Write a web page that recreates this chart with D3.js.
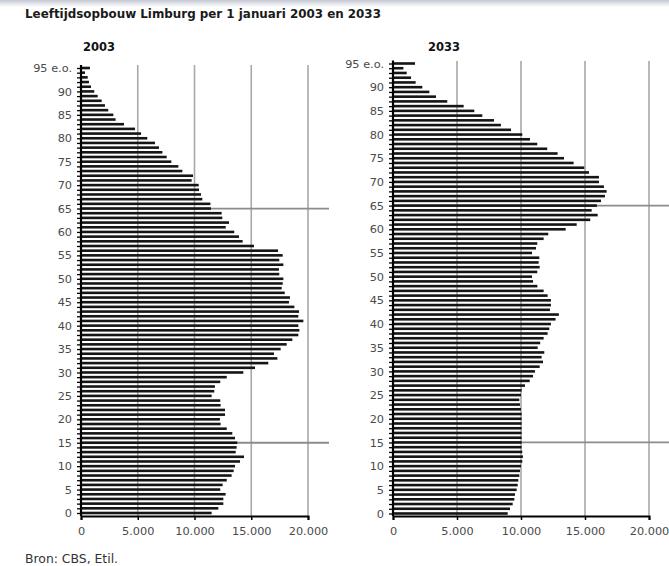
<!DOCTYPE html>
<html>
<head>
<meta charset="utf-8">
<script src="https://cdn.jsdelivr.net/npm/d3@7"></script>
<style>
body { margin: 0; background: #fff; }
</style>
</head>
<body>
<div id="chart"></div>
<script>
var width = 669,
height = 566;

// ages 0 .. 95 (95 = "95 e.o.")
var ages = d3.range(0, 96);

// population per age, Limburg 1 jan 2003 (age 0 first)
var pop2003 = [11510, 12100, 12540, 12540, 12740, 12270, 12480, 12840, 13270, 13450,
  13570, 14010, 14360, 13630, 13710, 13770, 13570, 13330, 12840, 12300,
  12240, 12690, 12690, 12300, 12270, 11510, 11740, 11800, 12270, 12840,
  14300, 15330, 16500, 17300, 17000, 17590, 18120, 18620, 19150, 19240,
  19150, 19590, 19150, 19210, 18800, 18320, 18410, 17950, 17680, 17770,
  17830, 17470, 17440, 17830, 17470, 17770, 17360, 15240, 14240, 13920,
  13500, 12750, 13040, 12450, 12390, 11450, 11400, 10690, 10570, 10400,
  10370, 9750, 9870, 8930, 8580, 7960, 7550, 7170, 6870, 6520,
  5840, 5290, 4760, 3790, 3050, 2850, 2400, 2110, 1820, 1470,
  1170, 880, 700, 590, 350, 790];

// prognose 1 jan 2033
var pop2033 = [8960, 9140, 9350, 9480, 9530, 9660, 9740, 9790, 9870, 9920,
  10000, 10100, 10150, 10100, 10050, 10050, 10050, 10050, 10050, 10050,
  10050, 10050, 10000, 9920, 9870, 10000, 10050, 10310, 10680, 10940,
  11090, 11460, 11720, 11610, 11820, 11300, 11500, 11770, 12080, 12210,
  12340, 12700, 12960, 12260, 12340, 12340, 12080, 11770, 11280, 10940,
  10860, 11270, 11460, 11380, 11430, 10860, 11170, 11270, 11770, 12130,
  13490, 14350, 15410, 15990, 15520, 15930, 16250, 16560, 16690, 16480,
  16090, 16090, 15310, 14940, 14110, 13360, 12860, 12050, 11270, 10700,
  10100, 9220, 8430, 7890, 6980, 6350, 5520, 4240, 3360, 2840,
  2290, 1770, 1410, 1070, 810, 1720];

var xTicks = [0, 5000, 10000, 15000, 20000];
var yLabelAges = [0, 5, 10, 15, 20, 25, 30, 35, 40, 45, 50, 55, 60, 65, 70, 75, 80, 85, 90, 95];
var refAges = [15, 65];

var font = 'DejaVu Sans, Verdana, sans-serif';

var svg = d3.select('#chart').append('svg')
  .attr('width', width)
  .attr('height', height);

// faint band at the very top of the screenshot
var defs = svg.append('defs');
var grad = defs.append('linearGradient').attr('id', 'topfade')
  .attr('x1', 0).attr('y1', 0).attr('x2', 0).attr('y2', 1);
grad.append('stop').attr('offset', '0%').attr('stop-color', '#c4c8d2');
grad.append('stop').attr('offset', '100%').attr('stop-color', '#ffffff');
svg.append('rect').attr('x', 0).attr('y', 0).attr('width', width).attr('height', 7)
  .attr('fill', 'url(#topfade)');

svg.append('text')
  .attr('x', 25).attr('y', 18)
  .attr('font-family', font)
  .attr('font-weight', 'bold')
  .attr('font-size', '11.9px')
  .attr('fill', '#1a1a1a')
  .text('Leeftijdsopbouw Limburg per 1 januari 2003 en 2033');

svg.append('text')
  .attr('x', 25).attr('y', 563)
  .attr('font-family', font)
  .attr('font-size', '12.4px')
  .attr('fill', '#333')
  .text('Bron: CBS, Etil.');

function panel(cfg) {
  var x = d3.scaleLinear().domain([0, 20000]).range([cfg.x0, cfg.x1]);
  var y = d3.scaleLinear().domain([0, 95]).range([cfg.yBottom, cfg.yTop]);
  var g = svg.append('g');

  g.append('text')
    .attr('x', cfg.titleX).attr('y', 51)
    .attr('text-anchor', 'middle')
    .attr('font-family', font)
    .attr('font-weight', 'bold')
    .attr('font-size', '11.5px')
    .attr('fill', '#111')
    .text(cfg.title);

  // vertical grid lines
  g.selectAll('.grid').data(xTicks.slice(1)).enter().append('line')
    .attr('class', 'grid')
    .attr('x1', d => x(d)).attr('x2', d => x(d))
    .attr('y1', cfg.gridTop).attr('y2', cfg.yAxis)
    .attr('stroke', '#a8a8a8')
    .attr('stroke-width', 1.6);

  // reference lines at 15 and 65
  g.selectAll('.ref').data(refAges).enter().append('line')
    .attr('class', 'ref')
    .attr('x1', cfg.x0).attr('x2', cfg.refEnd)
    .attr('y1', d => y(d)).attr('y2', d => y(d))
    .attr('stroke', '#8c8c8c')
    .attr('stroke-width', 1.8);

  var bh = 2.6;
  g.selectAll('.bar').data(cfg.values).enter().append('rect')
    .attr('class', 'bar')
    .attr('x', x(0))
    .attr('y', (d, i) => y(ages[i]) - bh / 2)
    .attr('width', d => x(d) - x(0))
    .attr('height', bh)
    .attr('fill', '#151515');

  var yAxis = d3.axisLeft(y)
    .tickValues(ages)
    .tickSize(4)
    .tickPadding(5)
    .tickFormat(d => yLabelAges.indexOf(d) < 0 ? '' : (d == 95 ? '95 e.o.' : d));
  var ya = g.append('g')
    .attr('transform', 'translate(' + cfg.x0 + ',0)')
    .call(yAxis);
  ya.select('.domain').attr('stroke-width', 2.2).attr('stroke', '#000')
    .attr('d', 'M0,' + (cfg.yTop - 3) + 'V' + cfg.yAxis);
  ya.selectAll('.tick line').attr('stroke', '#000').attr('stroke-width', 1.3);
  ya.selectAll('text')
    .attr('font-family', font)
    .attr('font-size', '11.3px')
    .attr('fill', '#4a4a4a');

  var xAxis = d3.axisBottom(x)
    .tickValues(xTicks)
    .tickSize(4)
    .tickPadding(7)
    .tickFormat(d => d3.format(',')(d).replace(/,/g, '.'));
  var xa = g.append('g')
    .attr('transform', 'translate(0,' + cfg.yAxis + ')')
    .call(xAxis);
  xa.select('.domain').attr('stroke-width', 2).attr('stroke', '#000');
  xa.selectAll('.tick line').attr('stroke', '#000').attr('stroke-width', 1.5);
  xa.selectAll('text')
    .attr('font-family', font)
    .attr('font-size', '11.3px')
    .attr('fill', '#4a4a4a');
}

panel({title: '2003', titleX: 99, values: pop2003,
  x0: 81, x1: 308, yBottom: 513, yTop: 68, yAxis: 516, gridTop: 65, refEnd: 329});
panel({title: '2033', titleX: 444, values: pop2033,
  x0: 393, x1: 649, yBottom: 513.5, yTop: 63.5, yAxis: 516, gridTop: 61, refEnd: 669});
</script>
</body>
</html>
